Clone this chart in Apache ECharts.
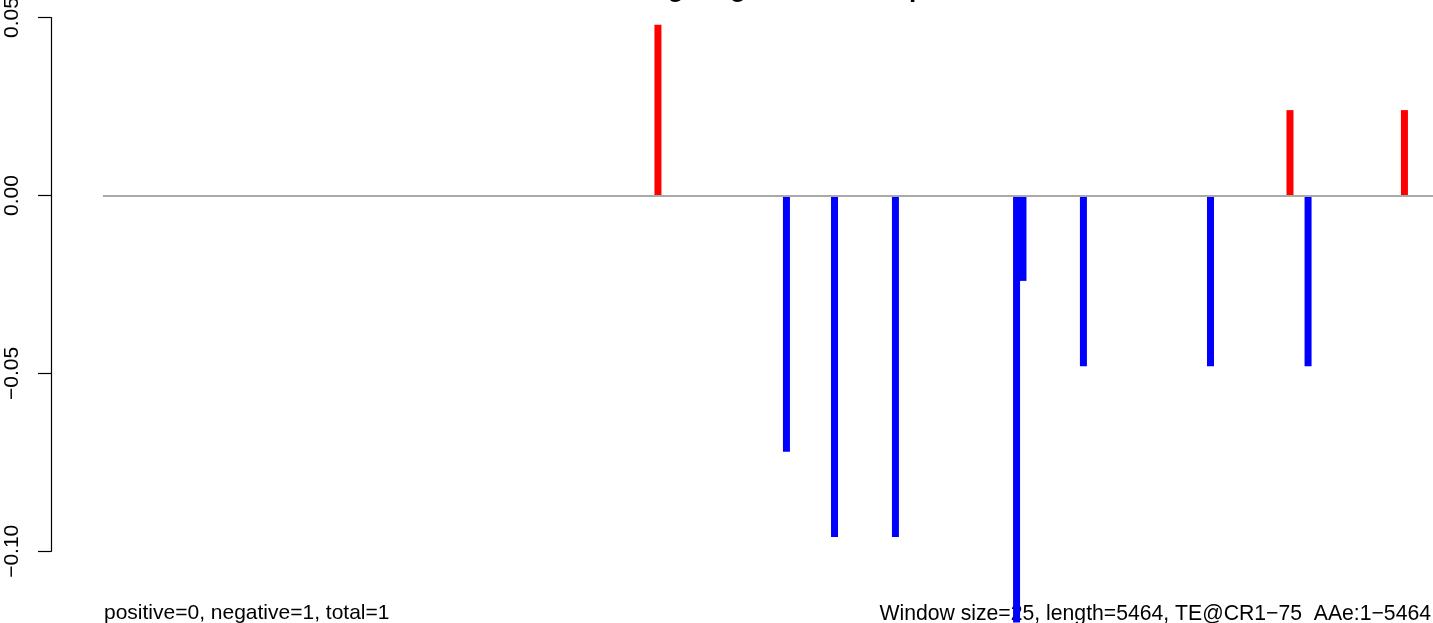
<!DOCTYPE html>
<html><head><meta charset="utf-8">
<script src="https://cdn.jsdelivr.net/npm/echarts@6/dist/echarts.min.js"></script>
<style>html,body{margin:0;padding:0;background:#fff}#c{width:1433px;height:623px}</style>
</head><body><div id="c"></div>
<script>
// ---- data ----
const chartTitle = 'Sliding_Log2_Rate_Stemplot';
const leftNote = 'positive=0, negative=1, total=1';
const rightNote = 'Window size=25, length=5464, TE@CR1\u221275  AAe:1\u22125464';
const yTickValues = [-0.10, -0.05, 0.00, 0.05];
const positiveX = [2333, 4989, 5470];
const positiveY = [0.048, 0.024, 0.024];
const negativeX = [2873, 3075, 3331, 3840, 3867, 4121, 4655, 5065];
const negativeY = [-0.072, -0.096, -0.096, -0.12, -0.024, -0.048, -0.048, -0.048];

const FONT = '"Liberation Sans", Arial, Helvetica, sans-serif';
const pxPerUnit = 3558;
const topPx = 17.6;

const chart = echarts.init(document.getElementById('c'), null, {renderer: 'canvas'});
const posData = positiveX.map((x, i) => [x, positiveY[i]]);
const negData = negativeX.map((x, i) => [x, negativeY[i]]);

chart.setOption({
  animation: false,
  backgroundColor: '#ffffff',
  grid: [
    {left: 103, right: 0, top: topPx, height: 0.18 * pxPerUnit, outerBoundsMode: 'none', containLabel: false},
    {left: 51, width: 10, top: topPx, height: 0.15 * pxPerUnit, outerBoundsMode: 'none', containLabel: false}
  ],
  xAxis: [
    {type: 'value', gridIndex: 0, min: 1, max: 5590, show: false},
    {type: 'value', gridIndex: 1, min: 0, max: 1, show: false}
  ],
  yAxis: [
    {type: 'value', gridIndex: 0, min: -0.13, max: 0.05, show: false},
    {type: 'value', gridIndex: 1, min: -0.10, max: 0.05, interval: 0.05,
      splitLine: {show: false},
      axisLine: {show: true, lineStyle: {color: '#000', width: 1.2}},
      axisTick: {show: true, length: 13, lineStyle: {color: '#000', width: 1.2}},
      axisLabel: {
        rotate: 90, margin: 28, color: '#000', fontSize: 21, fontFamily: FONT,
        formatter: v => v.toFixed(2).replace('-', '\u2212')
      }
    }
  ],
  series: [
    {
      type: 'bar', xAxisIndex: 0, yAxisIndex: 0, data: posData,
      barWidth: 7, barGap: '-100%', itemStyle: {color: '#ff0000'},
      markLine: {
        silent: true, symbol: 'none', label: {show: false},
        lineStyle: {color: '#a9a9a9', width: 1.8, type: 'solid'},
        data: [{yAxis: 0}]
      }
    },
    {
      type: 'bar', xAxisIndex: 0, yAxisIndex: 0, data: negData,
      barWidth: 7, barGap: '-100%', itemStyle: {color: '#0000ff'}
    }
  ],
  graphic: [
    {type: 'text', x: 597, y: -10.6, z: 0,
      style: {text: chartTitle, fontSize: 26, fontWeight: 'bold', fontFamily: FONT, fill: '#000',
        textAlign: 'left', textVerticalAlign: 'middle', align: 'left', verticalAlign: 'middle'}},
    {type: 'text', x: 104, y: 613.7, z: 0,
      style: {text: leftNote, fontSize: 21, fontFamily: FONT, fill: '#000',
        textAlign: 'left', textVerticalAlign: 'middle', align: 'left', verticalAlign: 'middle'}},
    {type: 'text', x: 1431, y: 613.7, z: 0,
      style: {text: rightNote, fontSize: 21.2, fontFamily: FONT, fill: '#000',
        textAlign: 'right', textVerticalAlign: 'middle', align: 'right', verticalAlign: 'middle'}}
  ]
});
</script>
</body></html>
